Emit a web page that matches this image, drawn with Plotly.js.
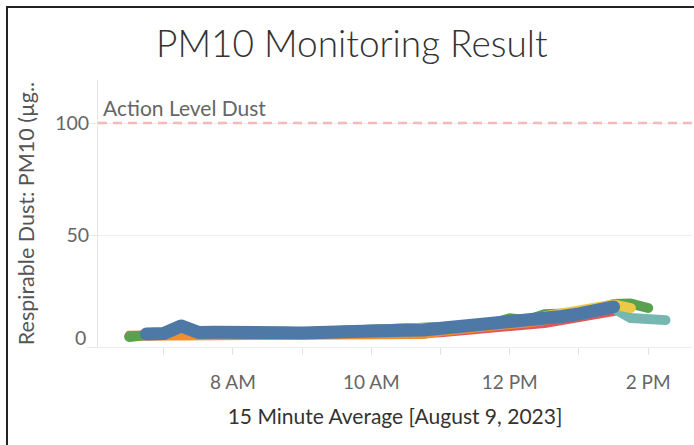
<!DOCTYPE html>
<html>
<head>
<meta charset="utf-8">
<script src="https://cdn.plot.ly/plotly-3.0.1.min.js"></script>
<style>
  html, body { margin: 0; padding: 0; background: #fff; }
  #wrap { position: relative; width: 694px; height: 445px; overflow: hidden; }
  #chart { position: absolute; left: 0; top: 0; width: 694px; height: 445px; }
  #frame { position: absolute; left: 6px; top: 6px; width: 720px; height: 460px;
           border-top: 2px solid #222; border-left: 2px solid #222; pointer-events: none; }
  .js-line { stroke-linecap: round !important; stroke-linejoin: round !important; }
</style>
</head>
<body>
<div id="wrap"><div id="chart"></div><div id="frame"></div></div>
<script>
// 15-minute average timestamps, August 9, 2023
const times = ['06:30','06:45','07:00','07:15','07:30','07:45','08:00','08:15','08:30','08:45',
  '09:00','09:15','09:30','09:45','10:00','10:15','10:30','10:45','11:00','11:15',
  '11:30','11:45','12:00','12:15','12:30','12:45','13:00','13:15','13:30','13:45',
  '14:00','14:15'];

const redSeries    = [5.2, 5.2, 5.0, 5.4, 5.0, 5.1, 5.0, 5.0, 5.0, 5.1, 5.1, 5.2, 5.6, 5.5, 5.6, 6.0, 5.9, 6.0, 6.4, 7.0, 7.6, 8.2, 9.0, 9.7, 10.5, 11.8, 13.0, 14.4, 15.8, null, null, null];
const orangeSeries = [4.8, 4.8, 4.6, 5.0, 4.6, 4.7, 4.6, 4.6, 4.6, 4.7, 4.7, 4.8, 5.2, 5.1, 5.2, 5.6, 5.5, 5.6, 6.8, 7.8, 8.6, 9.2, 10.0, 10.7, 11.5, 12.8, 14.0, 15.5, 17.1, null, null, null];
const greenSeries  = [4.5, 5.4, 6.2, 8.9, 6.8, 6.9, 6.6, 6.7, 6.7, 6.8, 6.6, 6.8, 7.6, 7.2, 7.4, 8.0, 7.8, 7.9, 8.5, 9.2, 9.9, 10.6, 12.8, 12.0, 14.6, 14.6, 15.2, 16.8, 19.2, 19.4, 17.4, null];
const tealSeries   = [null, 6.2, 6.2, 9.0, 6.6, 6.8, 6.5, 6.5, 6.5, 6.6, 6.5, 6.7, 7.4, 7.0, 7.2, 7.8, 7.6, 7.8, 8.3, 8.9, 9.5, 10.2, 11.0, 11.7, 12.6, 13.8, 15.0, 16.4, 17.2, 12.9, 12.5, 12.0];
const yellowSeries = [null, 5.9, 6.1, 9.2, 6.6, 6.7, 6.4, 6.5, 6.5, 6.6, 6.4, 6.6, 7.4, 7.0, 7.2, 7.9, 7.6, 7.7, 8.3, 8.9, 9.6, 10.3, 11.2, 12.0, 13.6, 14.8, 16.2, 17.6, 19.0, 17.4, null, null];
const blueSeries   = [null, 5.8, 6.0, 9.4, 6.5, 6.6, 6.3, 6.4, 6.4, 6.5, 6.3, 6.5, 7.4, 6.9, 7.1, 7.8, 7.5, 7.6, 8.2, 8.8, 9.4, 10.0, 10.8, 11.5, 12.3, 13.6, 14.8, 16.3, 17.9, null, null, null];

const actionLevel = 100;
const actionLabel = 'Action Level Dust';

const xTickHours = ['07:00','08:00','09:00','10:00','11:00','12:00','13:00','14:00'];
const xTickText  = ['', '8 AM', '', '10 AM', '', '12 PM', '', '2 PM'];
const yTickVals  = [0, 50, 100];
const yTickText  = ['', '50', '100'];
const yZeroLabel = '0';

const day = '2023-08-09 ';
const xs = times.map(t => day + t);

const seriesList = [
  {y: redSeries,    color: '#E15759', w: 9},
  {y: orangeSeries, color: '#F28E2B', w: 9},
  {y: greenSeries,  color: '#59A14F', w: 10},
  {y: tealSeries,   color: '#76B7B2', w: 10},
  {y: yellowSeries, color: '#EDC948', w: 10},
  {y: blueSeries,   color: '#4E79A7', w: 13}
];

const traces = seriesList.map(s => ({
  type: 'scatter', mode: 'lines', x: xs, y: s.y,
  line: {color: s.color, width: s.w}, connectgaps: false,
  hoverinfo: 'skip', showlegend: false
}));

const font = 'Lato, "Open Sans", sans-serif';

const layout = {
  width: 694, height: 445,
  margin: {l: 98, r: 2, t: 80, b: 98},
  paper_bgcolor: 'rgba(0,0,0,0)', plot_bgcolor: '#fff',
  font: {family: font, color: '#666'},
  title: {text: 'PM10 Monitoring Result', x: 0.507, xanchor: 'center',
          y: 1 - 44/445, yref: 'container', yanchor: 'middle',
          font: {family: font, size: 37, color: '#333', weight: 300}},
  xaxis: {
    type: 'date',
    range: [day + '06:03:00', day + '14:38:00'],
    tickmode: 'array', tickvals: xTickHours.map(h => day + h), ticktext: xTickText,
    ticks: 'outside', ticklen: 7, tickcolor: '#e3e3e3', tickwidth: 1,
    ticklabelstandoff: 11,
    tickfont: {size: 19, color: '#666'},
    showgrid: false, zeroline: false,
    showline: true, linecolor: '#ececec', linewidth: 1,
    title: {text: '15 Minute Average [August 9, 2023]', standoff: 17,
            font: {size: 21, color: '#333'}},
    automargin: false, fixedrange: true
  },
  yaxis: {
    range: [0, 119.2],
    tickmode: 'array', tickvals: yTickVals, ticktext: yTickText,
    ticks: 'outside', ticklen: 10, tickcolor: '#e8e8e8', tickwidth: 1,
    ticklabelstandoff: -6,
    tickfont: {size: 19.5, color: '#666'},
    showgrid: true, gridcolor: '#eeeeee', gridwidth: 1,
    zeroline: false,
    showline: true, linecolor: '#e6e6e6', linewidth: 1,
    title: {text: 'Respirable Dust: PM10 (µg..', standoff: 14,
            font: {size: 21.5, color: '#555'}},
    automargin: false, fixedrange: true
  },
  shapes: [{
    type: 'line', xref: 'paper', x0: 0, x1: 1, yref: 'y', y0: actionLevel, y1: actionLevel,
    line: {color: '#F4B9B9', width: 2.5, dash: '9px,6px'}, layer: 'above'
  }],
  annotations: [{
    text: actionLabel, xref: 'paper', x: 0, xshift: 3, xanchor: 'left',
    yref: 'y', y: actionLevel, yshift: 16, yanchor: 'middle', showarrow: false,
    font: {family: font, size: 21, color: '#666'}
  }, {
    text: yZeroLabel, xref: 'paper', x: 0, xshift: -10, xanchor: 'right',
    yref: 'y', y: 0, yshift: 10, yanchor: 'middle', showarrow: false,
    font: {family: font, size: 19.5, color: '#666'}
  }]
};

Plotly.newPlot('chart', traces, layout, {staticPlot: true, displayModeBar: false});
</script>
</body>
</html>
